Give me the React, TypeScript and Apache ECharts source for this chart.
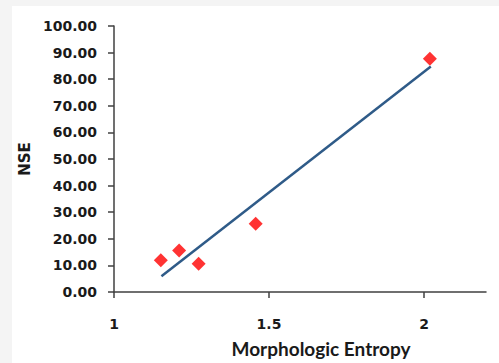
import React, { useEffect, useRef } from "react";
import * as echarts from "echarts";

const entropy = [1.151, 1.21, 1.273, 1.457, 2.019];
const nse = [11.9, 15.6, 10.6, 25.7, 87.7];
const trendX = [1.153, 2.022];
const trendY = [5.9, 84.8];
const xTicks = [1, 1.5, 2];

export default function App() {
  const ref = useRef<HTMLDivElement>(null);
  useEffect(() => {
    if (!ref.current) return;
    const chart = echarts.init(ref.current, null, { renderer: "svg" });
    const tickFont = { fontFamily: "DejaVu Sans", fontWeight: "bold" as const, fontSize: 14, color: "#1a1a1a" };
    chart.setOption({
      animation: false,
      backgroundColor: "transparent",
      grid: { left: 114, top: 26, right: 13, bottom: 67, containLabel: false },
      xAxis: {
        type: "value",
        min: 1,
        max: 2.2,
        interval: 0.5,
        name: "Morphologic Entropy",
        nameLocation: "middle",
        nameGap: 47,
        nameTextStyle: { fontFamily: "Lato", fontWeight: "bold", fontSize: 19, color: "#1a1a1a", padding: [0, 0, 0, 42] },
        axisLine: { show: true, onZero: false, lineStyle: { color: "#404040", width: 1.5 } },
        axisTick: { show: true, length: 6, customValues: xTicks, lineStyle: { color: "#404040", width: 1.5 } },
        axisLabel: { ...tickFont, margin: 25, customValues: xTicks, formatter: (v: number) => String(v) },
        splitLine: { show: false },
      },
      yAxis: {
        type: "value",
        min: 0,
        max: 100,
        interval: 10,
        name: "NSE",
        nameLocation: "middle",
        nameGap: 74,
        nameTextStyle: { fontFamily: "DejaVu Sans", fontWeight: "bold", fontSize: 15, color: "#1a1a1a" },
        axisLine: { show: true, lineStyle: { color: "#404040", width: 1.5 } },
        axisTick: { show: true, length: 6, lineStyle: { color: "#404040", width: 1.5 } },
        axisLabel: { ...tickFont, margin: 17, formatter: (v: number) => v.toFixed(2) },
        splitLine: { show: false },
      },
      series: [
        {
          type: "line",
          data: trendX.map((x, i) => [x, trendY[i]]),
          showSymbol: false,
          symbol: "none",
          lineStyle: { color: "#2f5b88", width: 2.5 },
          z: 2,
        },
        {
          type: "scatter",
          data: entropy.map((x, i) => [x, nse[i]]),
          symbol: "diamond",
          symbolSize: 14,
          itemStyle: { color: "#ff0000" },
          z: 3,
        },
      ],
    });
    return () => chart.dispose();
  }, []);
  return (
    <div style={{ position: "absolute", left: 0, top: 0, width: 499, height: 363, background: "#f4f4f4" }}>
      <div style={{ position: "absolute", left: 12, top: 6, width: 487, height: 357, background: "#ffffff" }} />
      <div ref={ref} style={{ position: "absolute", left: 0, top: 0, width: 499, height: 363 }} />
    </div>
  );
}
